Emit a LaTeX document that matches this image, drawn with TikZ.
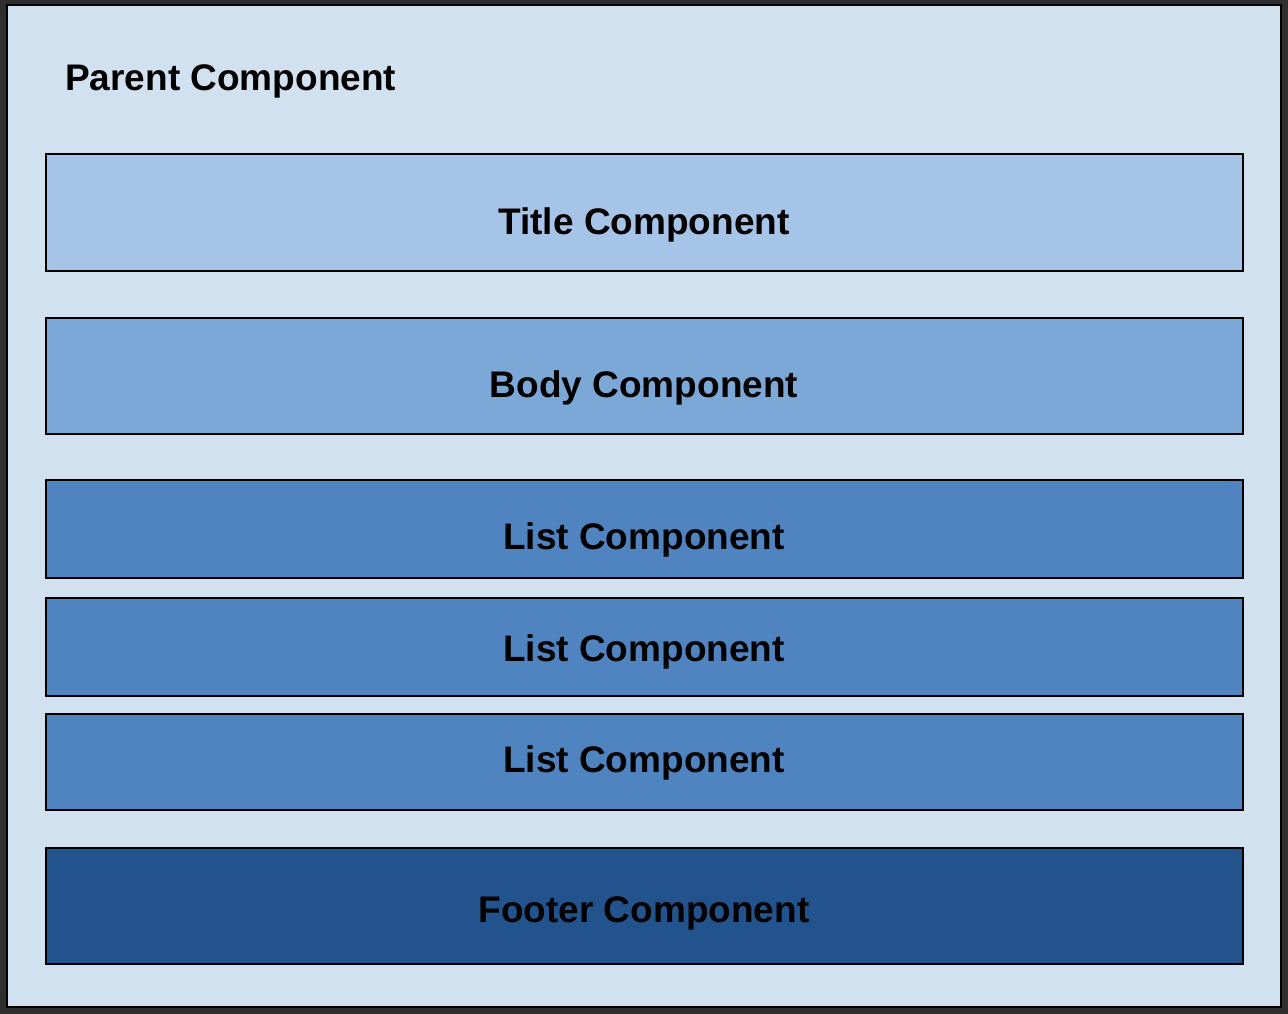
\documentclass[tikz,border=0pt]{standalone}
\usepackage{fontspec}
\setmainfont{Liberation Sans}
\definecolor{frame}{HTML}{2E2E2E}
\definecolor{parentbg}{HTML}{D1E1F0}
\definecolor{titlec}{HTML}{A6C4E7}
\definecolor{bodyc}{HTML}{7CA8D8}
\definecolor{listc}{HTML}{4F84C0}
\definecolor{footc}{HTML}{22538C}
\begin{document}
\begin{tikzpicture}[x=1pt,y=-1pt,
  box/.style={draw=black, line width=2pt, rectangle, inner sep=0pt, outer sep=0pt,
              minimum width=1197pt},
  lbl/.style={anchor=base, inner sep=0pt, font=\fontsize{37}{44}\selectfont\bfseries}]
\useasboundingbox (0,0) rectangle (1288,1014);
\fill[frame] (0,0) rectangle (1288,1014);
\node[draw=black, line width=2pt, fill=parentbg, rectangle, inner sep=0pt,
      minimum width=1274pt, minimum height=1002pt] (parent) at (644,506) {};
\node[lbl, anchor=base west] (parentlbl) at (65,91) {Parent Component};

\node[box, fill=titlec, minimum height=117pt] (title) at (644,212.5) {};
\node[lbl] (titlelbl) at (644,234) {Title Component};

\node[box, fill=bodyc, minimum height=116pt] (body) at (644,376) {};
\node[lbl] (bodylbl) at (644,397) {Body Component};

\node[box, fill=listc, minimum height=98pt] (list1) at (644,529) {};
\node[lbl] (list1lbl) at (644,549) {List Component};

\node[box, fill=listc, minimum height=98pt] (list2) at (644,647) {};
\node[lbl] (list2lbl) at (644,661) {List Component};

\node[box, fill=listc, minimum height=96pt] (list3) at (644,762) {};
\node[lbl] (list3lbl) at (644,772) {List Component};

\node[box, fill=footc, minimum height=116pt] (footer) at (644,906) {};
\node[lbl] (footerlbl) at (644,922) {Footer Component};
\end{tikzpicture}
\end{document}
